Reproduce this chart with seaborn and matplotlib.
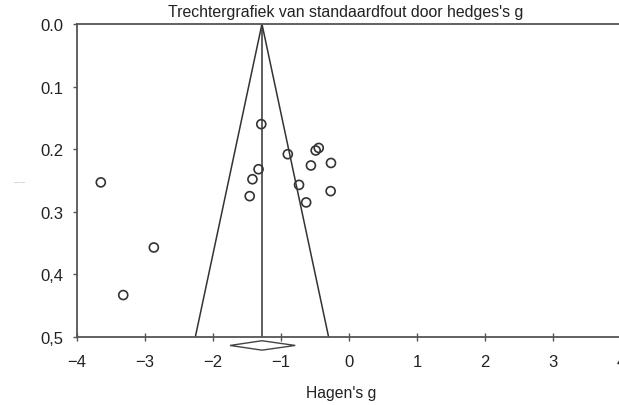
import matplotlib
matplotlib.use("Agg")
import matplotlib.pyplot as plt
import seaborn as sns
import pandas as pd
import numpy as np

# Data
hedges_g = [-1.29, -0.90, -0.49, -0.445, -0.56, -0.265, -1.33, -1.42, -0.735,
            -1.46, -0.27, -0.63, -3.65, -2.87, -3.32]
std_err = [0.160, 0.208, 0.202, 0.198, 0.226, 0.222, 0.232, 0.248, 0.257,
           0.275, 0.267, 0.285, 0.253, 0.357, 0.433]
pooled_g = -1.28
pooled_ci = [-1.75, -0.79]
se_max = 0.5
x_ticks = [-4, -3, -2, -1, 0, 1, 2, 3, 4]
y_ticks = [0.0, 0.1, 0.2, 0.3, 0.4, 0.5]
y_tick_labels = ["0.0", "0.1", "0.2", "0.3", "0,4", "0,5"]
title = "Trechtergrafiek van standaardfout door hedges's g"
xlabel = "Hagen's g"

sns.set_theme(style="white")
plt.rcParams["font.family"] = ["Liberation Sans", "DejaVu Sans"]

fig = plt.figure(figsize=(6.19, 4.06), dpi=100)
ax = fig.add_axes([77 / 619, 1 - 338 / 406, 544 / 619, 313 / 406])

df = pd.DataFrame({"g": hedges_g, "se": std_err})
sns.scatterplot(data=df, x="g", y="se", ax=ax, marker="o", s=42,
                facecolors="none", edgecolor="#333333", linewidth=1.2, zorder=3)

line_col = "#333333"
# funnel
ax.plot([pooled_g - 1.96 * se_max, pooled_g, pooled_g + 1.96 * se_max],
        [se_max, 0, se_max], color=line_col, lw=1.1, zorder=2)
# centre line
ax.plot([pooled_g, pooled_g], [0, se_max], color=line_col, lw=1.1, zorder=2)

# pooled diamond below the axis
dy = 0.0075
yc = se_max + 0.0135
ax.fill([pooled_ci[0], pooled_g, pooled_ci[1], pooled_g],
        [yc, yc - dy, yc, yc + dy], facecolor="white", edgecolor="#444444",
        lw=1.0, clip_on=False, zorder=4)

ax.set_xlim(-4, 4)
ax.set_ylim(se_max, 0)
ax.set_xticks(x_ticks)
ax.set_xticklabels(["\u2212" + str(abs(t)) if t < 0 else str(t) for t in x_ticks])
ax.set_yticks(y_ticks)
ax.set_yticklabels(y_tick_labels)

for side in ["left", "bottom", "top"]:
    ax.spines[side].set_visible(True)
    ax.spines[side].set_color("#555555")
    ax.spines[side].set_linewidth(1.3)
ax.spines["right"].set_visible(False)

ax.tick_params(axis="y", direction="out", length=3, width=1, color="#555555",
               left=True, labelsize=12, pad=7, labelcolor="#222222")
ax.tick_params(axis="x", direction="inout", length=6, width=1, color="#555555",
               bottom=True, labelsize=12, pad=9, labelcolor="#222222")

ax.set_title(title, fontsize=11.4, color="#222222", pad=6, x=0.493)
ax.set_xlabel(xlabel, fontsize=11.3, color="#222222", va="top")
ax.xaxis.set_label_coords(0.485, -0.152)
ax.set_ylabel("\u2014\u2014", rotation=0, fontsize=4, color="#999999")
ax.yaxis.set_label_coords(-0.105, 0.488)

fig.savefig("out.png", dpi=100)
